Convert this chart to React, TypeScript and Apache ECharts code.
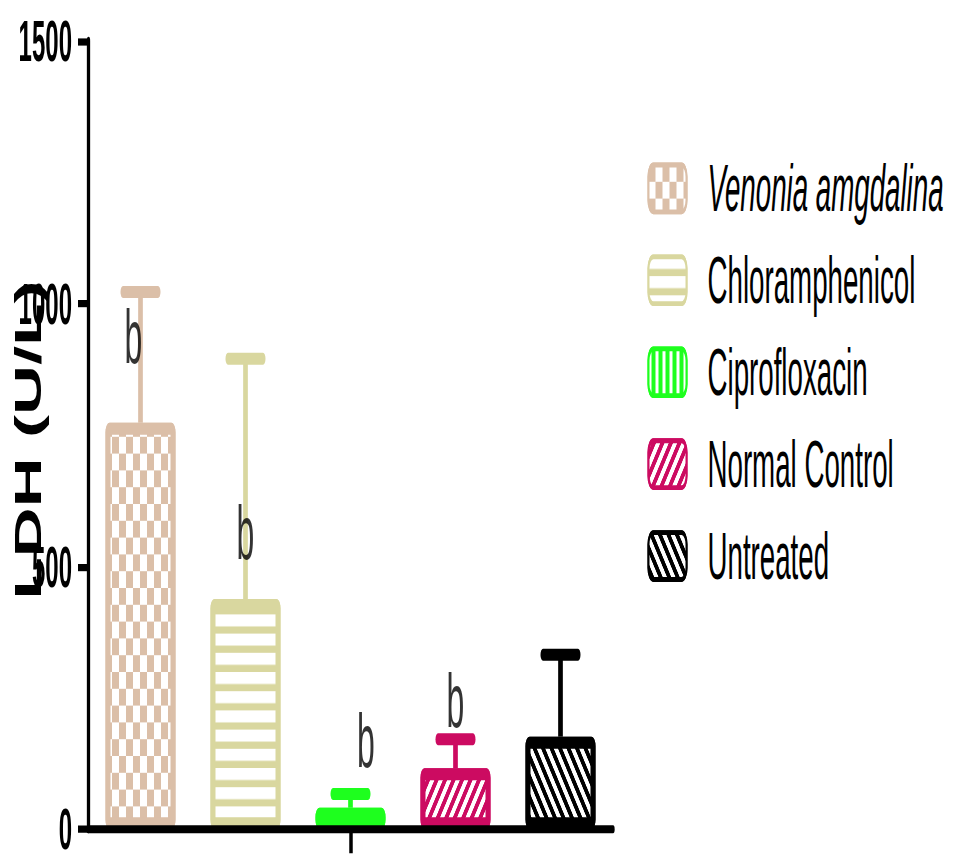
import React, { useEffect, useRef } from 'react';
import * as echarts from 'echarts';

// ---- data ----
const groups = ['Venonia amgdalina', 'Chloramphenicol', 'Ciprofloxacin', 'Normal Control', 'Untreated'];
const means = [773, 438, 41, 116, 176];
const sds = [249, 457, 26, 55, 156];
const letters = ['b', 'b', 'b', 'b', ''];
const letterHeights = [938, 565, 170, 245, 0];
const yMin = 0;
const yMax = 1500;
const yStep = 500;
const yTitle = 'LDH (U/L)';

// ---- style ----
const FONT = "'Liberation Sans', Arial, sans-serif";
const colors = ['#dbbfa8', '#d9d79f', '#1eff1e', '#cc0b61', '#000000'];
const letterDx = [-7, 0, 15.5, 0, 0];
const W = 953;
const H = 858;
const S = 2.4; // vertical stretch of the original figure
const H0 = H / S;

const baseDecal = { symbol: 'rect', symbolSize: 1, symbolKeepAspect: false, color: '#ffffff' };
const decals = [
  { ...baseDecal, dashArrayX: [[6.85, 6.85], [0, 6.85, 6.85, 0]], dashArrayY: [6.5, 0] },
  { ...baseDecal, dashArrayX: [40, 0], dashArrayY: [4.9, 2.1] },
  { ...baseDecal, dashArrayX: [3, 4], dashArrayY: [40, 0] },
  { ...baseDecal, dashArrayX: [40, 0], dashArrayY: [2.37, 2.37], rotation: -Math.PI / 4 },
  { ...baseDecal, dashArrayX: [40, 0], dashArrayY: [2.37, 2.37], rotation: Math.PI / 4 },
];

export default function App() {
  const ref = useRef<HTMLDivElement>(null);
  useEffect(() => {
    if (!ref.current) return;
    const chart = echarts.init(ref.current, undefined, { renderer: 'svg', width: W, height: H0 });
    const barSeries = groups.map((g, i) => ({
      type: 'bar',
      name: g,
      barWidth: 70,
      barGap: '-100%',
      data: groups.map((_, j) => (j === i ? means[i] : '-')),
      itemStyle: {
        color: colors[i],
        borderColor: colors[i],
        borderWidth: 5,
        borderRadius: 1.5,
        decal: decals[i],
      },
      emphasis: { disabled: true },
    }));
    const option: any = {
      animation: false,
      backgroundColor: '#ffffff',
      grid: { left: 88, right: W - 613, top: 40.7 / S, bottom: H0 - 836 / S, containLabel: false },
      xAxis: {
        type: 'category',
        data: groups,
        z: 5,
        axisLine: { lineStyle: { color: '#000', width: 3.3 } },
        axisTick: {
          show: true,
          alignWithLabel: true,
          interval: (i: number) => i === 2,
          length: 10,
          lineStyle: { color: '#000', width: 3.5 },
        },
        axisLabel: { show: false },
        splitLine: { show: false },
      },
      yAxis: {
        type: 'value',
        min: yMin,
        max: yMax,
        interval: yStep,
        z: 5,
        axisLine: { show: true, lineStyle: { color: '#000', width: 3.3 } },
        axisTick: { show: true, length: 10, lineStyle: { color: '#000', width: 3 } },
        axisLabel: {
          margin: 16,
          fontSize: 24,
          fontWeight: 'bold',
          fontFamily: FONT,
          color: '#000',
          formatter: (v: number) => String(v),
        },
        splitLine: { show: false },
      },
      legend: {
        orient: 'vertical',
        left: 647.5,
        top: 64.5,
        padding: 0,
        itemWidth: 38,
        itemHeight: 19.5,
        itemGap: 10.3,
        selectedMode: false,
        icon: 'roundRect',
        textStyle: { fontSize: 27.7, fontFamily: FONT, color: '#000', padding: [0, 0, 0, 16] },
        data: groups.map((g, i) => (i === 0 ? { name: g, textStyle: { fontStyle: 'italic' } } : { name: g })),
      },
      graphic: [
        {
          type: 'text',
          x: 28.5,
          y: 440 / S,
          rotation: Math.PI / 2,
          scaleX: 0.765,
          z: 1,
          style: {
            text: yTitle,
            fontSize: 37.7,
            fontWeight: 'bold',
            fontFamily: FONT,
            fill: '#000',
            align: 'center',
            verticalAlign: 'middle',
          },
        },
      ],
      series: [
        ...barSeries,
        {
          type: 'custom',
          name: 'SD',
          z: 3,
          data: means.map((m, i) => [i, m, m + sds[i]]),
          encode: { x: 0, y: [1, 2] },
          renderItem: (params: any, api: any) => {
            const i = api.value(0);
            const p0 = api.coord([i, api.value(1)]);
            const p1 = api.coord([i, api.value(2)]);
            const c = colors[i];
            return {
              type: 'group',
              children: [
                { type: 'line', shape: { x1: p0[0], y1: p0[1], x2: p1[0], y2: p1[1] }, style: { stroke: c, lineWidth: 4.7 } },
                {
                  type: 'line',
                  shape: { x1: p1[0] - 17.5, y1: p1[1], x2: p1[0] + 17.5, y2: p1[1] },
                  style: { stroke: c, lineWidth: 5, lineCap: 'round' },
                },
              ],
            };
          },
        },
        {
          type: 'scatter',
          name: 'significance',
          z: 4,
          symbolSize: 1,
          itemStyle: { color: 'transparent' },
          data: letters
            .map((l, i) => ({ value: [i, letterHeights[i]], l, i }))
            .filter((d) => d.l !== '')
            .map((d) => ({ value: d.value, label: { offset: [letterDx[d.i], 0] } })),
          label: {
            show: true,
            position: 'inside',
            formatter: (p: any) => letters[p.value[0]],
            fontSize: 32,
            fontFamily: FONT,
            color: '#000',
          },
          emphasis: { disabled: true },
        },
      ],
    };
    chart.setOption(option);
    return () => chart.dispose();
  }, []);
  return (
    <div style={{ position: 'absolute', left: 0, top: 0, width: W, height: H, overflow: 'hidden', background: '#fff' }}>
      <div
        ref={ref}
        style={{ width: W, height: H0, transform: `scaleY(${S})`, transformOrigin: '0 0' }}
      />
    </div>
  );
}
